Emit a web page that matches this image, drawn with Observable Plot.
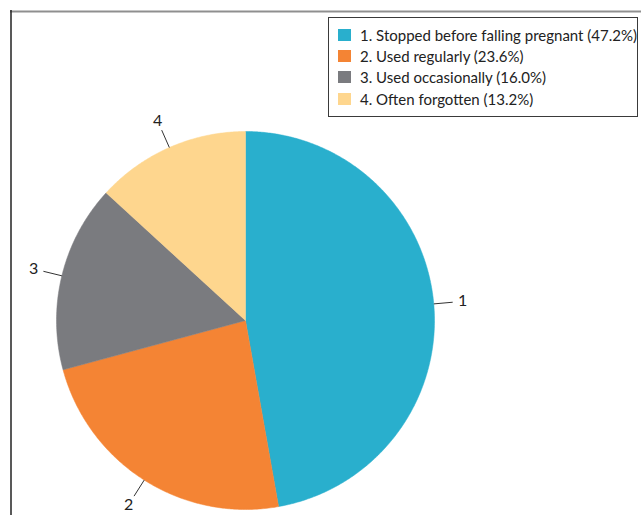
<!DOCTYPE html>
<html><head><meta charset="utf-8">
<script src="https://cdn.jsdelivr.net/npm/d3@7"></script>
<script src="https://cdn.jsdelivr.net/npm/@observablehq/plot@0.6"></script>
<style>
body{margin:0;background:#fff;}
#wrap{position:relative;width:641px;height:515px;overflow:hidden;}
#legend{position:absolute;left:328px;top:17px;width:310px;height:100px;border:1px solid #3a3a3a;box-sizing:border-box;background:#fff;
  font-family:Lato, "Open Sans", sans-serif;font-size:15px;color:#222;padding:6px 0 0 9px;}
.row{display:flex;align-items:center;height:21.3px;white-space:nowrap;}
.sw{width:13px;height:12px;margin-right:9px;flex:none;}
</style></head>
<body><div id="wrap"><div id="chart"></div><div id="legend"></div></div>
<script>
// ---- data ----
const categories = ["1. Stopped before falling pregnant", "2. Used regularly", "3. Used occasionally", "4. Often forgotten"];
const sliceLabels = ["1", "2", "3", "4"];
const shares = [47.2, 23.6, 16.0, 13.2];
const colors = ["#29afcd", "#f48434", "#7a7b7f", "#fed68e"];

// ---- layout ----
const W = 641, H = 515, cx = 245, cy = 320, R = 189;
const rows = categories.map((c, i) => ({cat: c, label: sliceLabels[i], share: shares[i]}));
const arcs = d3.pie().sort(null).value(d => d.share)(rows);
const pt = (a, r) => [cx + r * Math.sin(a), cy - r * Math.cos(a)];

const poly = [];
arcs.forEach(a => {
  const n = Math.max(2, Math.ceil((a.endAngle - a.startAngle) / (Math.PI / 360)));
  poly.push({cat: a.data.cat, x: cx, y: cy});
  for (let k = 0; k <= n; k++) {
    const ang = a.startAngle + (a.endAngle - a.startAngle) * k / n;
    const [x, y] = pt(ang, R);
    poly.push({cat: a.data.cat, x, y});
  }
  poly.push({cat: a.data.cat, x: cx, y: cy});
});
const leaders = arcs.map(a => {
  const m = (a.startAngle + a.endAngle) / 2;
  const [x1, y1] = pt(m, R), [x2, y2] = pt(m, R + 19), [tx, ty] = pt(m, R + 29);
  return {label: a.data.label, x1, y1, x2, y2, tx, ty};
});

const color = {domain: categories, range: colors};
const chart = Plot.plot({
  width: W, height: H, margin: 0,
  x: {type: "identity", axis: null}, y: {type: "identity", axis: null},
  color,
  style: {fontFamily: "Lato, 'Open Sans', sans-serif", background: "#fff"},
  marks: [
    Plot.line(poly, {x: "x", y: "y", z: "cat", fill: "cat", stroke: "cat", strokeWidth: 0.5, curve: "linear"}),
    Plot.link(leaders, {x1: "x1", y1: "y1", x2: "x2", y2: "y2", stroke: "#333", strokeWidth: 1}),
    Plot.text(leaders, {x: "tx", y: "ty", text: "label", fontSize: 16, fill: "#222"}),
    Plot.ruleY([11], {x1: 10, x2: W, stroke: "#8f8f8f", strokeWidth: 2}),
    Plot.ruleX([10.5], {y1: 10, y2: H, stroke: "#222", strokeWidth: 1.5})
  ]
});
document.getElementById("chart").appendChild(chart);

const lg = document.getElementById("legend");
rows.forEach((r, i) => {
  const d = document.createElement("div");
  d.className = "row";
  d.innerHTML = `<span class="sw" style="background:${colors[i]}"></span><span>${r.cat} (${r.share.toFixed(1)}%)</span>`;
  lg.appendChild(d);
});
</script>
</body></html>
